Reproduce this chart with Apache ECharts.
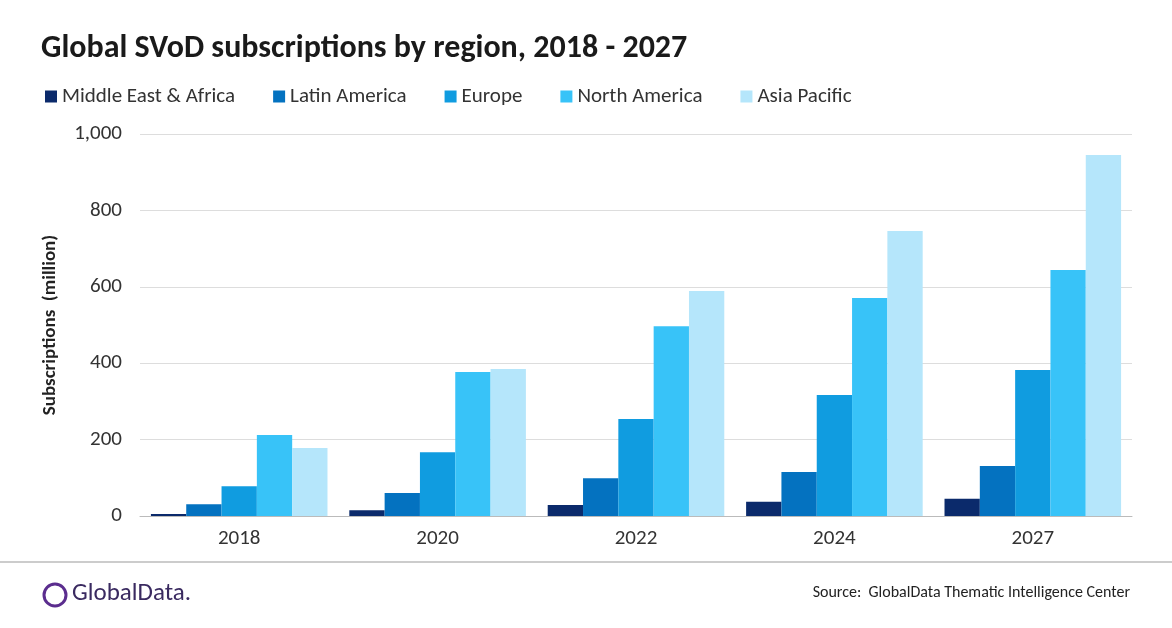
<!DOCTYPE html>
<html><head><meta charset="utf-8">
<script src="https://cdn.jsdelivr.net/npm/echarts@6/dist/echarts.min.js"></script>
<style>html,body{margin:0;padding:0;background:#fff}#main{width:1172px;height:628px}</style>
</head><body><div id="main"></div>
<script>
// data
var years = ['2018', '2020', '2022', '2024', '2027'];
var regions = ['Middle East & Africa', 'Latin America', 'Europe', 'North America', 'Asia Pacific'];
var colors = ['#0b2a6b', '#0472c0', '#109ce0', '#38c3f8', '#b5e6fb'];
var mea = [5, 15, 29, 37, 45];
var latam = [31, 60, 99, 115, 131];
var europe = [78, 167, 254, 317, 382];
var namerica = [212, 377, 497, 571, 644];
var apac = [178, 385, 589, 746, 945];
var values = [mea, latam, europe, namerica, apac];

var chart = echarts.init(document.getElementById('main'));
var font = 'Calibri, Carlito, "Liberation Sans", "Open Sans", sans-serif';
chart.setOption({
  animation: false,
  textStyle: { fontFamily: font },
  title: {
    text: 'Global SVoD subscriptions by region, 2018 - 2027',
    left: 36, top: 28,
    textStyle: { fontSize: 32, fontWeight: 'bold', color: '#1a1a1a', fontFamily: font }
  },
  legend: {
    data: regions, left: 40, top: 81, itemWidth: 12, itemHeight: 12, itemGap: 38,
    icon: 'rect',
    textStyle: { fontSize: 21, color: '#333', fontFamily: font }
  },
  grid: { left: 140, right: 40, top: 134, bottom: 112 },
  xAxis: {
    type: 'category', data: years,
    axisLine: { lineStyle: { color: '#bbb' } },
    axisTick: { show: false },
    axisLabel: { fontSize: 21, color: '#333', margin: 12 }
  },
  yAxis: {
    type: 'value', min: 0, max: 1000, interval: 200,
    name: 'Subscriptions  (million)', nameLocation: 'middle', nameGap: 80,
    nameTextStyle: { fontSize: 19, fontWeight: 'bold', color: '#222' },
    axisLabel: { fontSize: 21, color: '#333', margin: 18,
      formatter: function (v) { return v.toLocaleString('en-US'); } },
    splitLine: { lineStyle: { color: '#ddd' } }
  },
  series: regions.map(function (r, i) {
    return { name: r, type: 'bar', data: values[i], barGap: 0, barCategoryGap: '11%',
      itemStyle: { color: colors[i] } };
  }),
  graphic: [
    { type: 'line', shape: { x1: 0, y1: 562, x2: 1172, y2: 562 }, style: { stroke: '#999', lineWidth: 1 } },
    { type: 'circle', shape: { cx: 55, cy: 595, r: 11 }, style: { fill: 'none', stroke: '#5b2d8e', lineWidth: 3 } },
    { type: 'text', left: 72, top: 581, style: { text: 'GlobalData.', fontSize: 25, fill: '#3a2a60', fontFamily: font } },
    { type: 'text', right: 42, top: 585, style: { text: 'Source:  GlobalData Thematic Intelligence Center', fontSize: 16, fill: '#222', fontFamily: font } }
  ]
});
</script></body></html>
